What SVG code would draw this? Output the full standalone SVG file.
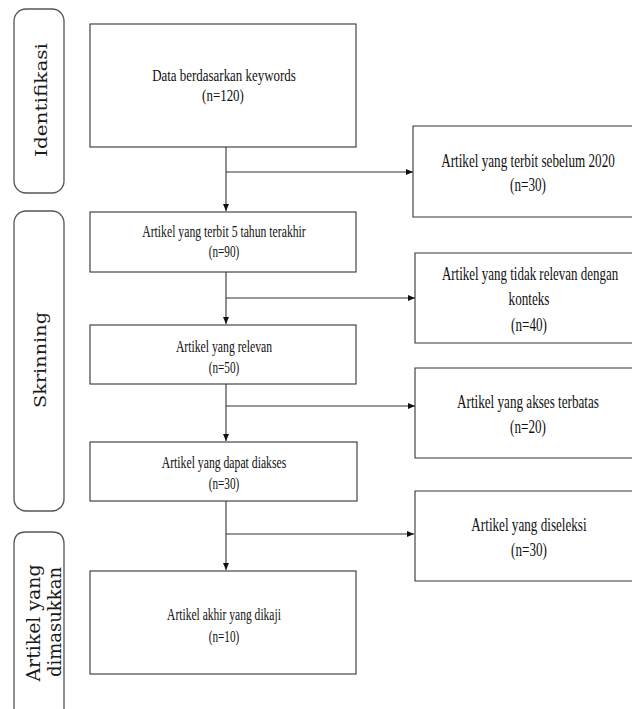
<svg xmlns="http://www.w3.org/2000/svg" width="632" height="709" viewBox="0 0 632 709">
<style>
.box{fill:#fff;stroke:#333;stroke-width:1.1}
.side{fill:#fff;stroke:#555;stroke-width:1.3}
.t{font-family:"Liberation Serif","Times New Roman",serif;fill:#111;text-anchor:middle}
.l{font-size:16.5px}
.k{font-size:17.5px}
.r{font-size:18px}
.s{font-family:"DejaVu Serif",Cambria,serif;fill:#1a1a1a;text-anchor:middle;font-size:17px}
.c{fill:none;stroke:#333;stroke-width:1.1}
</style>
<defs>
<marker id="ah" markerWidth="7" markerHeight="6" refX="7" refY="3" orient="auto" markerUnits="userSpaceOnUse">
<path d="M0,0 L7,3 L0,6 Z" fill="#111"/>
</marker>
</defs>
<rect width="632" height="709" fill="#fff"/>

<g id="phase-identifikasi">
<rect class="side" x="14" y="9" width="50" height="184" rx="12"/>
<text class="s" transform="translate(47,100) rotate(-90)" textLength="114" lengthAdjust="spacingAndGlyphs">Identifikasi</text>
</g>
<g id="phase-skrinning">
<rect class="side" x="14" y="211" width="50" height="300" rx="12"/>
<text class="s" transform="translate(46,360) rotate(-90)" textLength="96" lengthAdjust="spacingAndGlyphs">Skrinning</text>
</g>
<g id="phase-dimasukkan">
<path class="side" d="M14,709 V544 Q14,532 26,532 H52 Q64,532 64,544 V709"/>
<text class="s" style="font-size:18px" transform="translate(40,623) rotate(-90)" textLength="117" lengthAdjust="spacingAndGlyphs">Artikel yang</text>
<text class="s" style="font-size:18px" transform="translate(61,622) rotate(-90)" textLength="110" lengthAdjust="spacingAndGlyphs">dimasukkan</text>
</g>

<g id="connectors">
<path class="c" d="M226,147 V211" marker-end="url(#ah)"/>
<path class="c" d="M226,172 H413" marker-end="url(#ah)"/>
<path class="c" d="M226,272 V324" marker-end="url(#ah)"/>
<path class="c" d="M226,298 H415" marker-end="url(#ah)"/>
<path class="c" d="M226,384 V441" marker-end="url(#ah)"/>
<path class="c" d="M226,406 H415" marker-end="url(#ah)"/>
<path class="c" d="M226,501 V570" marker-end="url(#ah)"/>
<path class="c" d="M226,534 H414" marker-end="url(#ah)"/>
</g>

<g id="n-keywords">
<rect class="box" x="90" y="24" width="266" height="123"/>
<text class="t k" transform="translate(224,81) scale(0.74,1)">Data berdasarkan keywords</text>
<text class="t k" transform="translate(223,101) scale(0.74,1)">(n=120)</text>
</g>
<g id="n-terbit5">
<rect class="box" x="90" y="212" width="266" height="60"/>
<text class="t l" transform="translate(224,237) scale(0.71,1)">Artikel yang terbit 5 tahun terakhir</text>
<text class="t l" transform="translate(224,257) scale(0.68,1)">(n=90)</text>
</g>
<g id="n-relevan">
<rect class="box" x="90" y="325" width="266" height="59"/>
<text class="t l" transform="translate(224,352) scale(0.71,1)">Artikel yang relevan</text>
<text class="t l" transform="translate(224,373) scale(0.68,1)">(n=50)</text>
</g>
<g id="n-diakses">
<rect class="box" x="90" y="442" width="267" height="59"/>
<text class="t l" transform="translate(224,468) scale(0.71,1)">Artikel yang dapat diakses</text>
<text class="t l" transform="translate(224,489) scale(0.68,1)">(n=30)</text>
</g>
<g id="n-akhir">
<rect class="box" x="90" y="571" width="266" height="103"/>
<text class="t l" transform="translate(224,620) scale(0.7,1)">Artikel akhir yang dikaji</text>
<text class="t l" transform="translate(224,642) scale(0.68,1)">(n=10)</text>
</g>

<g id="x-sebelum2020">
<path class="box" d="M632,126 H413 V217 H632"/>
<text class="t r" transform="translate(528,167) scale(0.73,1)">Artikel yang terbit sebelum 2020</text>
<text class="t r" transform="translate(528,191) scale(0.73,1)">(n=30)</text>
</g>
<g id="x-tidakrelevan">
<path class="box" d="M632,253 H415 V343 H632"/>
<text class="t r" transform="translate(530,280) scale(0.72,1)">Artikel yang tidak relevan dengan</text>
<text class="t r" transform="translate(529,305) scale(0.73,1)">konteks</text>
<text class="t r" transform="translate(529,331) scale(0.73,1)">(n=40)</text>
</g>
<g id="x-terbatas">
<path class="box" d="M632,368 H415 V458 H632"/>
<text class="t r" transform="translate(528,408) scale(0.73,1)">Artikel yang akses terbatas</text>
<text class="t r" transform="translate(528,433) scale(0.73,1)">(n=20)</text>
</g>
<g id="x-diseleksi">
<path class="box" d="M632,491 H415 V581 H632"/>
<text class="t r" transform="translate(529,531) scale(0.73,1)">Artikel yang diseleksi</text>
<text class="t r" transform="translate(529,556) scale(0.73,1)">(n=30)</text>
</g>
</svg>
